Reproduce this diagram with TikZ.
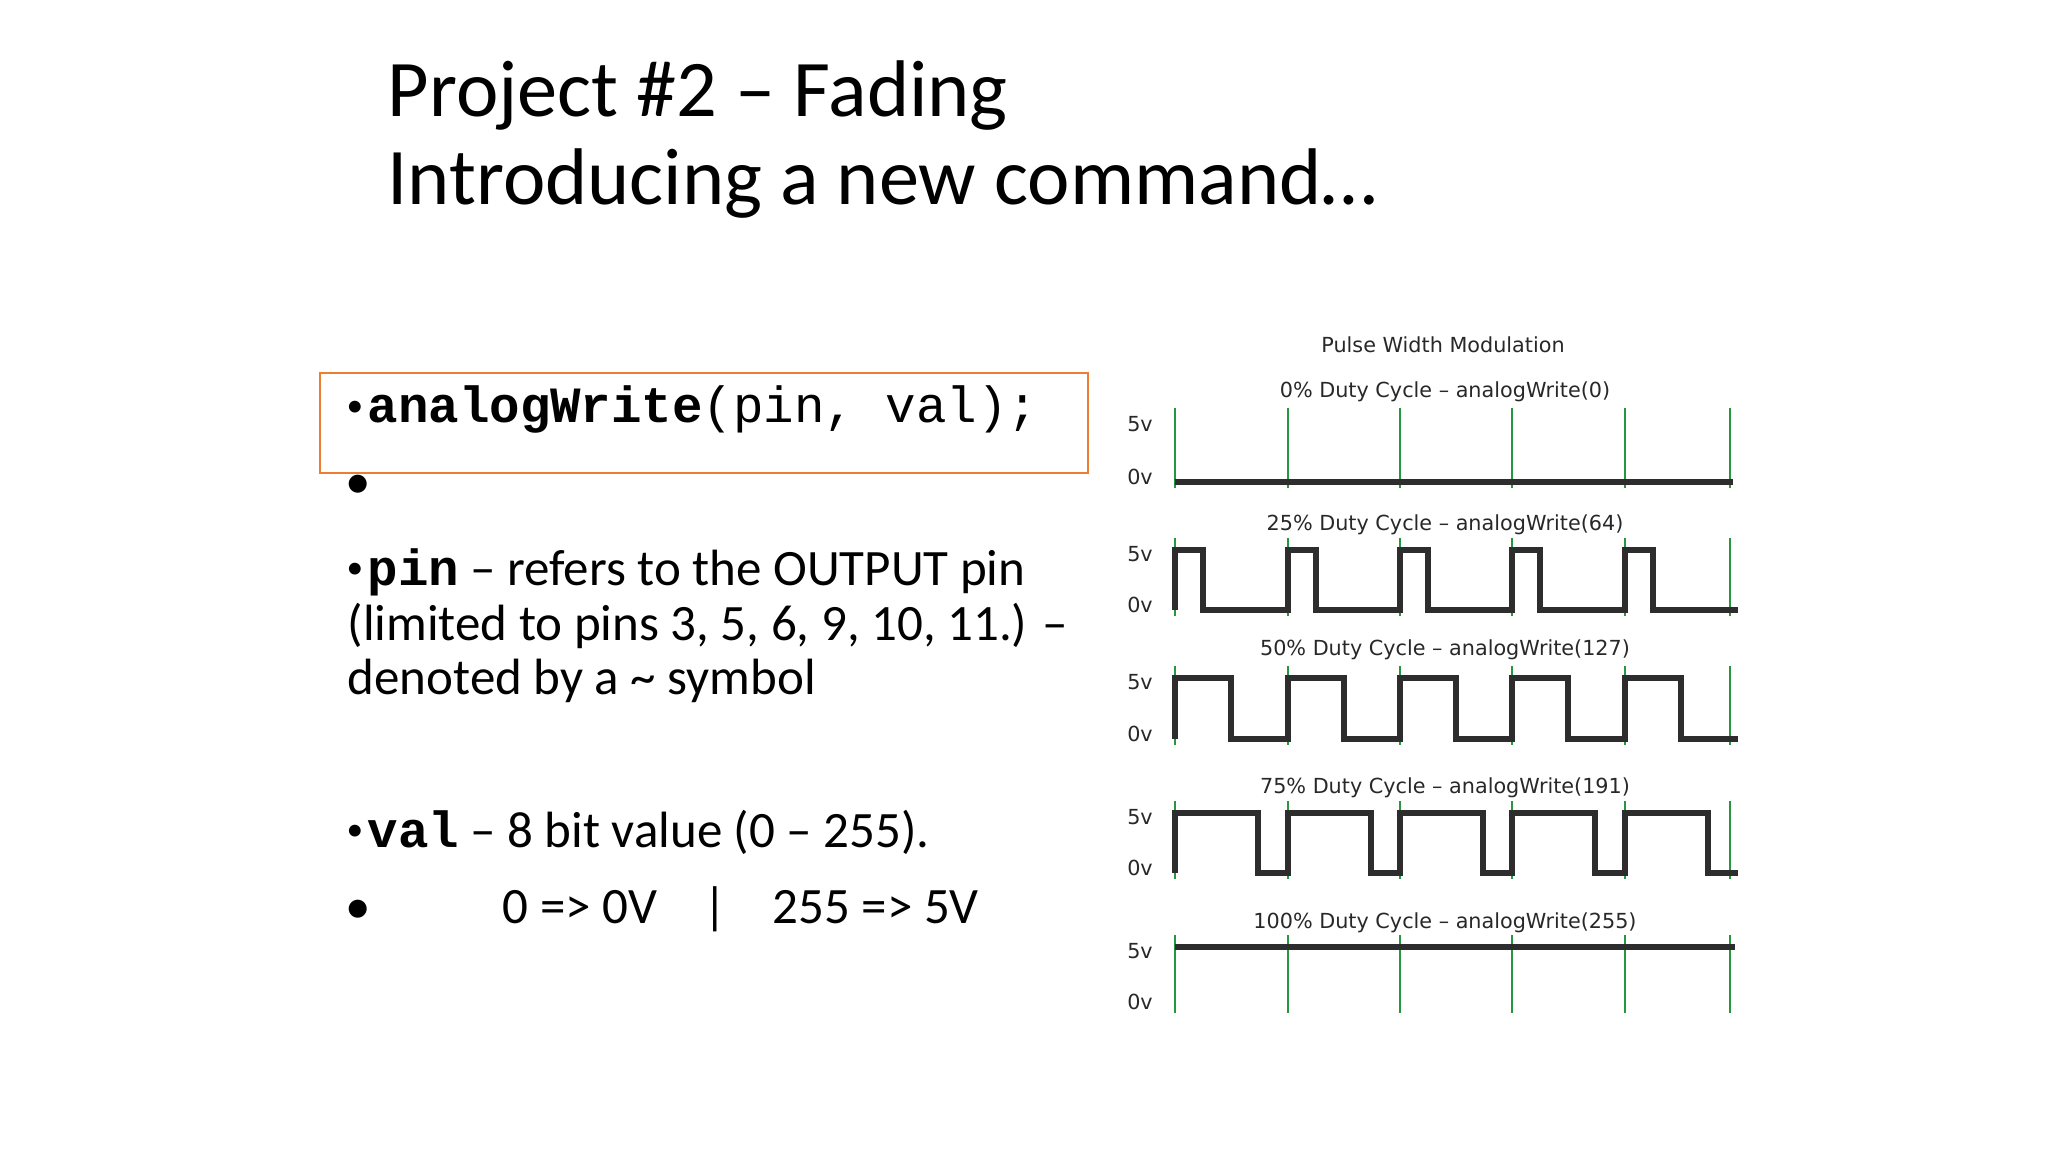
\documentclass[tikz,border=0pt]{standalone}
\usepackage{fontspec}
\setmainfont{Carlito}
\setmonofont{Liberation Mono}
\newfontfamily\chartfont{DejaVu Sans}
\usepackage{tikz}
\usetikzlibrary{positioning}

\definecolor{boxorange}{RGB}{237,125,49}
\definecolor{tickgreen}{RGB}{40,150,60}
\definecolor{wavegray}{RGB}{45,45,45}
\definecolor{charttext}{RGB}{40,40,40}

\newcommand{\titlesize}{\fontsize{22.85}{25}\selectfont}
\newcommand{\bodysize}{\fontsize{14.5}{15.6}\selectfont}
\newcommand{\codesize}{\fontsize{14.45}{15.6}\selectfont}
\newcommand{\chartsize}{\fontsize{5.9}{7}\selectfont}
\newcommand{\codebullet}{\raisebox{1.9pt}{\rmfamily\fontsize{9.5}{10}\selectfont•}\kern1.2pt}

\begin{document}
\begin{tikzpicture}[x=0.01cm,y=-0.01cm,
    titletxt/.style={inner sep=0pt,anchor=base west,font=\titlesize},
    txt/.style={inner sep=0pt,anchor=base west,font=\bodysize},
    lbl/.style={inner sep=0pt,font=\chartfont\chartsize,text=charttext},
    codeframe/.style={draw=boxorange,line width=0.6pt,inner sep=0pt},
    tickline/.style={tickgreen,line width=0.55pt},
    pwmwave/.style={wavegray,line width=1.7pt}]
  \useasboundingbox (0,0) rectangle (2048,1152);

  % title
  \node[titletxt] (title1) at (387,117) {Project \#2 – Fading};
  \node[titletxt] (title2) at (387,205) {Introducing a new command…};

  % left column
  \node[codeframe,minimum width=7.68cm,minimum height=1cm] (codebox) at (704,423) {};
  \node[txt,font=\codesize\ttfamily] (code) at (346,423) {\codebullet\textbf{analogWrite}(pin, val);};
  \node[txt] (blank) at (345,499) {•};
  \node[txt] (pinA) at (346,585) {\codebullet{\codesize\ttfamily\textbf{pin}} – refers to the OUTPUT pin};
  \node[txt] (pinB) at (347,640) {(limited to pins 3, 5, 6, 9, 10, 11.) –};
  \node[txt] (pinC) at (347,695) {denoted by a \textasciitilde{} symbol};
  \node[txt] (valA) at (346,847) {\codebullet{\codesize\ttfamily\textbf{val}} – 8 bit value (0 – 255).};
  \node[txt] (valB) at (345,923) {•};
  \node[txt] (lowmap) at (502,923) {0 => 0V};
  \node[txt,anchor=base] (bar) at (715,923) {|};
  \node[txt] (highmap) at (772,923) {255 => 5V};

  % chart
  \node[lbl,anchor=base] (pwmhead) at (1443,353) {Pulse Width Modulation};
  \foreach \t/\txt [count=\k] in {398/0\% Duty Cycle – analogWrite(0),
      531/25\% Duty Cycle – analogWrite(64),
      656/50\% Duty Cycle – analogWrite(127),
      793/75\% Duty Cycle – analogWrite(191),
      928/100\% Duty Cycle – analogWrite(255)}
    \node[lbl,anchor=base] (duty\k) at (1445,\t) {\txt};
  \foreach \h/\l [count=\k] in {420/482,550/610,678/739,813/873,947/1007} {
    \node[lbl] (five\k) at (1140,\h+4) {5v};
    \node[lbl] (zero\k) at (1140,\l-5) {0v};
    \foreach \x in {1175,1288,1400,1512,1625,1730}
      \draw[tickline] (\x,\h-12) -- (\x,\l+6);
  }
  \draw[pwmwave] (1175,482) -- (1733,482);
  \foreach \h/\l/\w in {550/610/28,678/739/56,813/873/83}
    \draw[pwmwave] (1175,\l) \foreach \p in {1175,1288,1400,1512,1625}
      { -- (\p,\l) -- (\p,\h) -- ({\p+\w},\h) -- ({\p+\w},\l) } -- (1738,\l);
  \draw[pwmwave] (1175,947) -- (1735,947);
\end{tikzpicture}
\end{document}
